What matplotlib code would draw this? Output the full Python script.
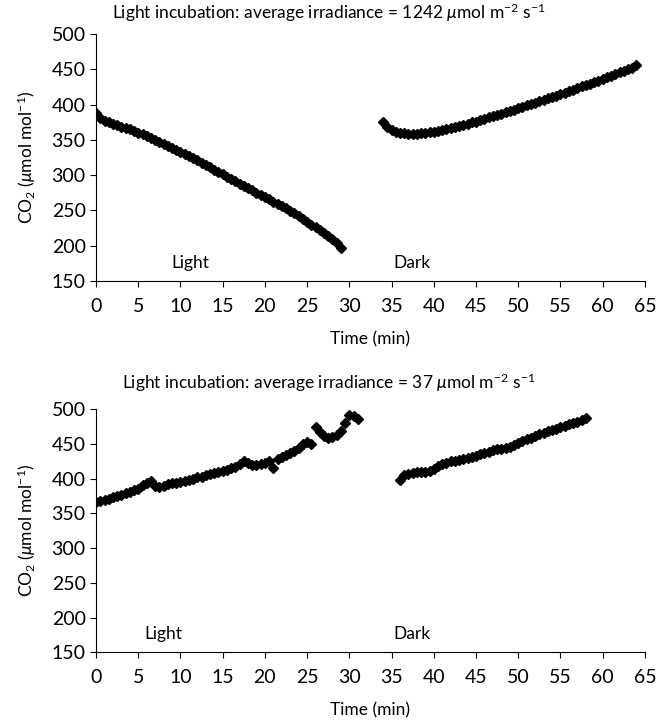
import numpy as np
import matplotlib
matplotlib.use("Agg")
import matplotlib.pyplot as plt

plt.rcParams['font.family'] = ['Lato', 'DejaVu Sans']
plt.rcParams['mathtext.fontset'] = 'custom'
plt.rcParams['mathtext.rm'] = 'Lato'
plt.rcParams['mathtext.it'] = 'Lato:italic'

# high irradiance run (1242)
t_light_hi = [0, 0.5, 1, 1.5, 2, 2.5, 3, 3.5, 4, 4.5, 5, 5.5, 6, 6.5, 7, 7.5, 8, 8.5, 9, 9.5,
              10, 10.5, 11, 11.5, 12, 12.5, 13, 13.5, 14, 14.5, 15, 15.5, 16, 16.5, 17, 17.5,
              18, 18.5, 19, 19.5, 20, 20.5, 21, 21.5, 22, 22.5, 23, 23.5, 24, 24.5, 25, 25.5,
              26, 26.5, 27, 27.5, 28, 28.5, 29]
co2_light_hi = [388, 381, 377, 375, 373, 371, 369, 367, 365, 363, 360, 358, 355, 353, 350, 347,
                345, 342, 339, 336, 333, 330, 327, 324, 321, 318, 315, 312, 308, 305, 302, 298,
                295, 292, 288, 285, 282, 279, 275, 272, 269, 266, 262, 259, 256, 253, 249, 246,
                242, 238, 234, 230, 226, 222, 218, 214, 209, 204, 197]
t_dark_hi = [34, 34.5, 35, 35.5, 36, 36.5, 37, 37.5, 38, 38.5, 39, 39.5, 40, 40.5, 41, 41.5,
             42, 42.5, 43, 43.5, 44, 44.5, 45, 45.5, 46, 46.5, 47, 47.5, 48, 48.5, 49, 49.5,
             50, 50.5, 51, 51.5, 52, 52.5, 53, 53.5, 54, 54.5, 55, 55.5, 56, 56.5, 57, 57.5,
             58, 58.5, 59, 59.5, 60, 60.5, 61, 61.5, 62, 62.5, 63, 63.5, 64]
co2_dark_hi = [375, 369, 364, 362, 360, 359.5, 359, 359, 359, 359.5, 360, 361, 362, 363, 364,
               365, 367, 368, 370, 371, 373, 375, 376, 378, 380, 382, 384, 385, 387, 389, 391,
               393, 395, 397, 399, 401, 403, 405, 407, 409, 411, 413, 415, 417, 419, 421, 424,
               426, 428, 430, 432, 434, 437, 439, 441, 443, 446, 448, 450, 452, 456]

# low irradiance run (37)
t_light_lo = [0, 0.5, 1, 1.5, 2, 2.5, 3, 3.5, 4, 4.5, 5, 5.5, 6, 6.5, 7, 7.5, 8, 8.5, 9, 9.5,
              10, 10.5, 11, 11.5, 12, 12.5, 13, 13.5, 14, 14.5, 15, 15.5, 16, 16.5, 17, 17.5,
              18, 18.5, 19, 19.5, 20, 20.5, 21, 21.5, 22, 22.5, 23, 23.5, 24, 24.5, 25, 25.5,
              26, 26.5, 27, 27.5, 28, 28.5, 29, 29.5, 30, 30.5, 31]
co2_light_lo = [367, 368, 369, 371, 373, 375, 377, 379, 381, 383, 385, 391, 393, 396, 390, 388,
                390, 392, 393, 394, 395, 396, 398, 400, 402, 403, 405, 406, 408, 410, 411, 413,
                415, 417, 421, 425, 422, 420, 420, 421, 422, 425, 415, 428, 431, 434, 437, 440,
                444, 450, 452, 450, 475, 467, 462, 459, 460, 463, 468, 480, 492, 490, 486]
t_dark_lo = [36, 36.5, 37, 37.5, 38, 38.5, 39, 39.5, 40, 40.5, 41, 41.5, 42, 42.5, 43, 43.5,
             44, 44.5, 45, 45.5, 46, 46.5, 47, 47.5, 48, 48.5, 49, 49.5, 50, 50.5, 51, 51.5,
             52, 52.5, 53, 53.5, 54, 54.5, 55, 55.5, 56, 56.5, 57, 57.5, 58]
co2_dark_lo = [398, 405, 407, 408, 409, 409, 410, 411, 414, 418, 421, 423, 425, 426, 427, 428,
               430, 431, 433, 435, 437, 439, 441, 442, 443, 444, 446, 448, 451, 454, 457, 459,
               462, 464, 466, 468, 470, 472, 474, 476, 478, 480, 482, 484, 487]

titles = [r'Light incubation: average irradiance = 1242 $\mathit{\mu}$mol m$^{-2}$ s$^{-1}$',
          r'Light incubation: average irradiance = 37 $\mathit{\mu}$mol m$^{-2}$ s$^{-1}$']
ylabel = r'CO$_2$ ($\mathit{\mu}$mol mol$^{-1}$)'
xticks = np.arange(0, 70, 5)
yticks = np.arange(150, 550, 50)

fig = plt.figure(figsize=(6.58, 7.28), dpi=100)
ax1 = fig.add_axes([0.146, 0.614, 0.834, 0.339])
ax2 = fig.add_axes([0.146, 0.104, 0.834, 0.334])

runs = [(ax1, t_light_hi, co2_light_hi, t_dark_hi, co2_dark_hi, 11.2, 0.983),
        (ax2, t_light_lo, co2_light_lo, t_dark_lo, co2_dark_lo, 8.0, 0.474)]

for i, (ax, tl, cl, td, cd, light_x, title_y) in enumerate(runs):
    ax.plot(tl, cl, ls='none', marker='D', ms=5, color='black')
    ax.plot(td, cd, ls='none', marker='D', ms=5, color='black')
    ax.set_xlim(0, 65)
    ax.set_ylim(150, 500)
    ax.set_xticks(xticks)
    ax.set_yticks(yticks)
    ax.spines['top'].set_visible(False)
    ax.spines['right'].set_visible(False)
    ax.tick_params(axis='both', direction='out', labelsize=14, length=4)
    ax.tick_params(axis='x', pad=8)
    ax.set_xlabel('Time (min)', fontsize=12.5, labelpad=12)
    ax.set_ylabel(ylabel, fontsize=12.5, labelpad=10)
    fig.text(0.5, title_y, titles[i], fontsize=12.5, ha='center', va='center')
    ax.text(light_x, 176, 'Light', fontsize=12.5, ha='center', va='center')
    ax.text(37.4, 176, 'Dark', fontsize=12.5, ha='center', va='center')

fig.savefig('out.png', dpi=100)
